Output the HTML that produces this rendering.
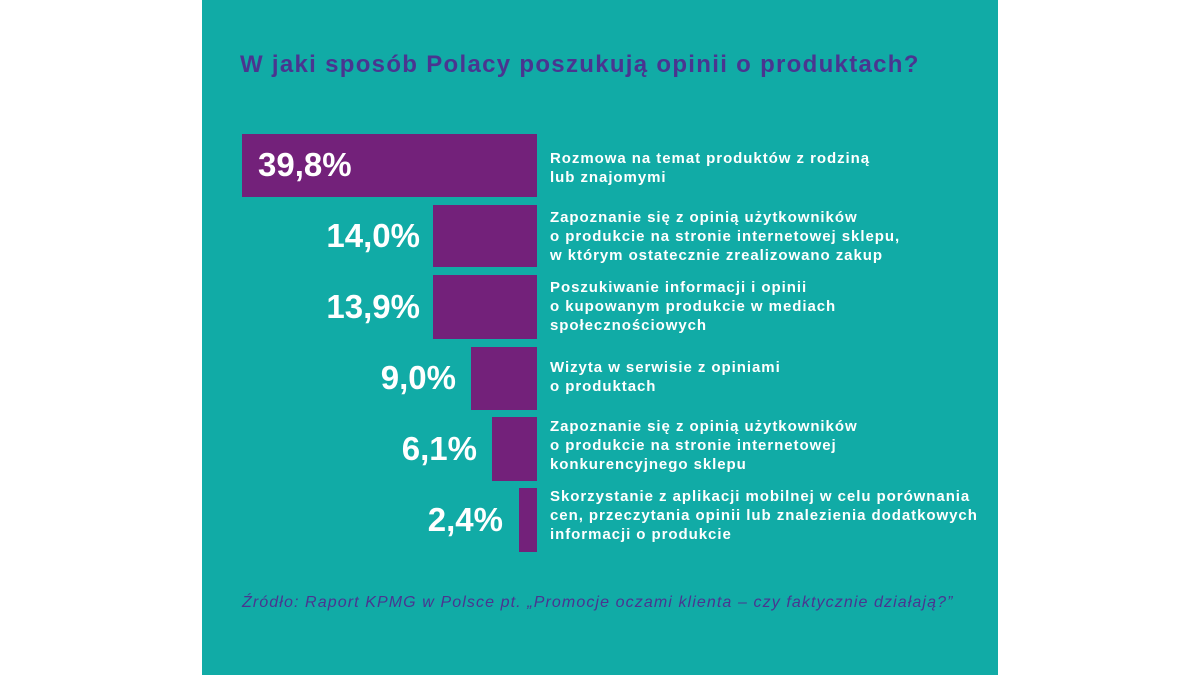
<!DOCTYPE html>
<html><head><meta charset="utf-8"><style>
body{margin:0;width:1200px;height:675px;background:#fff;position:relative;overflow:hidden;font-family:"Liberation Sans",sans-serif}
#p{position:absolute;left:202px;top:0;width:796px;height:675px;background:#11aba6}
.t{position:absolute;left:240px;top:51px;font-size:24px;font-weight:bold;color:#4a3590;white-space:nowrap;letter-spacing:1.3px}
.b{position:absolute;background:#73217a}
.v{position:absolute;color:#fff;font-weight:bold;font-size:33px;white-space:nowrap;text-align:right}
.l{position:absolute;left:550px;color:#fff;font-weight:bold;font-size:15px;line-height:19px;letter-spacing:0.95px;white-space:nowrap}
.s{position:absolute;left:242px;top:594px;font-style:italic;color:#4a3590;font-size:16px;letter-spacing:1.1px;white-space:nowrap}
</style></head><body>
<div id="p"></div>
<div class="t">W jaki sposób Polacy poszukują opinii o produktach?</div>
<div class="b" style="left:242px;top:134px;width:295px;height:63px"></div>
<div class="b" style="left:433px;top:205px;width:104px;height:62px"></div>
<div class="b" style="left:433px;top:275px;width:104px;height:64px"></div>
<div class="b" style="left:471px;top:347px;width:66px;height:63px"></div>
<div class="b" style="left:492px;top:417px;width:45px;height:64px"></div>
<div class="b" style="left:519px;top:488px;width:18px;height:64px"></div>
<div class="v" style="left:258px;top:146px">39,8%</div>
<div class="v" style="right:780px;top:217px">14,0%</div>
<div class="v" style="right:780px;top:288px">13,9%</div>
<div class="v" style="right:744px;top:359px">9,0%</div>
<div class="v" style="right:723px;top:430px">6,1%</div>
<div class="v" style="right:697px;top:501px">2,4%</div>
<div class="l" style="top:149px">Rozmowa na temat produktów z rodziną<br>lub znajomymi</div>
<div class="l" style="top:208px">Zapoznanie się z opinią użytkowników<br>o produkcie na stronie internetowej sklepu,<br>w którym ostatecznie zrealizowano zakup</div>
<div class="l" style="top:278px">Poszukiwanie informacji i opinii<br>o kupowanym produkcie w mediach<br>społecznościowych</div>
<div class="l" style="top:358px">Wizyta w serwisie z opiniami<br>o produktach</div>
<div class="l" style="top:417px">Zapoznanie się z opinią użytkowników<br>o produkcie na stronie internetowej<br>konkurencyjnego sklepu</div>
<div class="l" style="top:487px">Skorzystanie z aplikacji mobilnej w celu porównania<br>cen, przeczytania opinii lub znalezienia dodatkowych<br>informacji o produkcie</div>
<div class="s">Źródło: Raport KPMG w Polsce pt. „Promocje oczami klienta – czy faktycznie działają?”</div>
</body></html>
